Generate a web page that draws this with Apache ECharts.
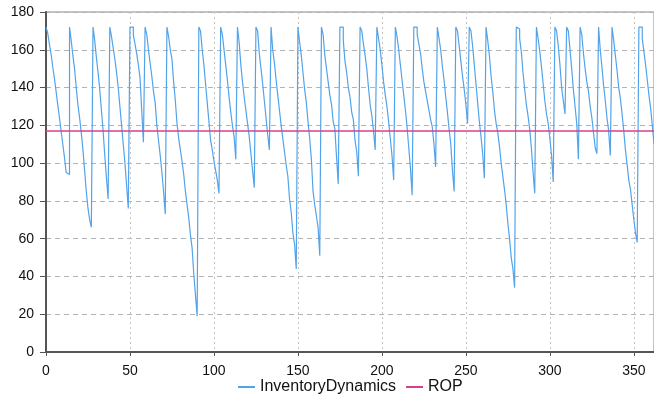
<!DOCTYPE html>
<html>
<head>
<meta charset="utf-8">
<script src="https://cdn.jsdelivr.net/npm/echarts@6/dist/echarts.min.js"></script>
<style>
  html, body { margin: 0; padding: 0; background: #fff; }
  #chart { width: 654px; height: 406px; }
</style>
</head>
<body>
<div id="chart"></div>
<script>
// inventory level per day (day = index)
const inventory = [
  172, 169, 163, 158, 151, 145, 138, 131, 124, 117, 110, 103, 95, 94,
  172, 165, 157, 150, 140, 131, 124, 116, 107, 96, 85, 76, 70, 66,
  172, 165, 156, 148, 139, 128, 117, 104, 92, 81,
  172, 167, 161, 155, 148, 140, 130, 120, 110, 100, 88, 76,
  172, 172, 168, 163, 158, 152, 145, 128, 111,
  172, 168, 160, 153, 146, 138, 132, 120, 112, 104, 95, 85, 73,
  172, 167, 160, 155, 143, 133, 121, 113, 107, 101, 94, 85, 78, 71, 62, 55, 41, 30, 19,
  172, 170, 160, 152, 142, 132, 122, 112, 107, 101, 96, 91, 84,
  172, 168, 160, 152, 144, 135, 127, 120, 114, 102,
  172, 164, 152, 143, 135, 128, 121, 114, 105, 96, 87,
  172, 170, 158, 150, 142, 133, 124, 115, 107,
  172, 160, 153, 144, 136, 128, 120, 113, 106, 99, 93, 81, 74, 63, 57, 44,
  172, 164, 157, 148, 139, 132, 122, 113, 102, 85, 78, 72, 66, 51,
  172, 168, 157, 150, 143, 136, 131, 122, 118, 103, 89,
  172, 172, 165, 154, 148, 140, 135, 127, 123, 112, 106, 93,
  172, 170, 163, 157, 150, 140, 131, 125, 117, 107,
  172, 166, 160, 152, 143, 136, 130, 122, 113, 104, 91,
  172, 167, 160, 152, 144, 136, 128, 119, 108, 97, 83,
  172, 172, 168, 163, 158, 150, 143, 138, 133, 128, 123, 119, 110, 98,
  172, 166, 160, 151, 144, 135, 127, 118, 110, 96, 85,
  172, 170, 162, 154, 146, 139, 131, 121,
  172, 170, 162, 152, 142, 132, 122, 114, 105, 92,
  172, 165, 157, 146, 138, 128, 121, 116, 109, 100, 93, 86, 78, 68, 60, 50, 44, 34,
  172, 171, 166, 159, 148, 139, 131, 125, 118, 108, 95, 84,
  172, 166, 159, 151, 142, 133, 126, 121, 113, 104, 90,
  172, 170, 162, 152, 140, 133, 126,
  172, 170, 160, 150, 139, 130, 121, 102,
  172, 168, 158, 150, 143, 138, 130, 124, 116, 108, 105,
  172, 160, 151, 141, 133, 124, 117, 104,
  172, 165, 157, 149, 140, 134, 126, 117, 107, 99, 91, 86, 78, 70, 63, 58,
  172, 172, 166, 159, 152, 144, 136, 129, 120, 110
];
const ropDays = [0, 362];
const ropValues = [117, 117];
const seriesNames = ['InventoryDynamics', 'ROP'];

const font = 'Liberation Sans, Arial, sans-serif';
var myChart = echarts.init(document.getElementById('chart'), null, { renderer: 'canvas' });
myChart.setOption({
  animation: false,
  color: ['#52a3ea', '#d4408e'],
  textStyle: { fontFamily: font },
  grid: {
    left: 46, right: 0, top: 12, bottom: 54,
    show: true, borderColor: '#8a8a8a', borderWidth: 1
  },
  legend: {
    bottom: 6,
    left: 233,
    itemWidth: 17,
    itemHeight: 2,
    itemGap: 10,
    icon: 'rect',
    textStyle: { fontSize: 16, color: '#111', fontFamily: font },
    data: seriesNames
  },
  xAxis: {
    type: 'value',
    min: 0,
    max: 362,
    interval: 50,
    axisLine: { onZero: false, lineStyle: { color: '#555', width: 2 } },
    axisTick: { show: true, length: 4, lineStyle: { color: '#555' } },
    axisLabel: {
      fontSize: 14, color: '#111', margin: 12, showMaxLabel: false,
      formatter: v => (v % 50 === 0 ? String(v) : '')
    },
    splitLine: { show: true, lineStyle: { color: '#c4c4c4', type: [2, 3] } }
  },
  yAxis: {
    type: 'value',
    min: 0,
    max: 180,
    interval: 20,
    axisLine: { show: true, lineStyle: { color: '#555', width: 2 } },
    axisTick: { show: true, length: 6, lineStyle: { color: '#555' } },
    axisLabel: { fontSize: 14, color: '#111', margin: 12 },
    splitLine: { show: true, lineStyle: { color: '#b4b4b4', type: [5, 4] } }
  },
  series: [
    {
      name: seriesNames[0],
      type: 'line',
      step: 'end',
      showSymbol: false,
      lineStyle: { width: 1.2 },
      data: inventory.map((v, i) => [i, v])
    },
    {
      name: seriesNames[1],
      type: 'line',
      showSymbol: false,
      lineStyle: { width: 1.5 },
      data: ropDays.map((d, i) => [d, ropValues[i]])
    }
  ]
});
</script>
</body>
</html>
